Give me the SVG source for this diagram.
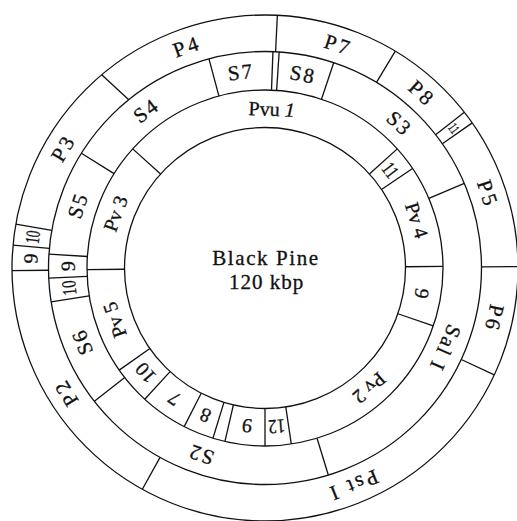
<svg xmlns="http://www.w3.org/2000/svg" width="517" height="521" viewBox="0 0 517 521">
<style>
.ring{fill:none;stroke:#111;stroke-width:1.3}
.div line{stroke:#111;stroke-width:1.3}
text{font-family:"Liberation Serif","DejaVu Serif",serif;fill:#111;stroke:#111;stroke-width:0.3;text-anchor:middle;dominant-baseline:central}
.lp{font-size:21px;letter-spacing:3px}
.ls{font-size:21px;letter-spacing:2px}
.lv{font-size:20px}
.n{font-size:20px}
.c{font-size:21px}
</style>
<rect width="517" height="521" fill="#fff"/>
<g id="rings">
<circle class="ring" cx="265" cy="268" r="253"/>
<circle class="ring" cx="265" cy="268" r="216.5"/>
<circle class="ring" cx="265" cy="268" r="178"/>
<circle class="ring" cx="265" cy="268" r="140.5"/>
</g>
<g id="connectors" class="div">
<line x1="275.58" y1="51.76" x2="277.36" y2="15.30"/>
<line x1="376.51" y1="82.42" x2="395.30" y2="51.14"/>
<line x1="435.60" y1="134.71" x2="464.37" y2="112.24"/>
<line x1="442.35" y1="143.82" x2="472.24" y2="122.89"/>
<line x1="481.5" y1="266.87" x2="518" y2="266.67"/>
<line x1="461.22" y1="359.50" x2="494.30" y2="374.92"/>
<line x1="160.04" y1="457.35" x2="142.34" y2="489.28"/>
<line x1="48.51" y1="270.27" x2="12.01" y2="270.65"/>
<line x1="49.39" y1="248.38" x2="13.04" y2="245.07"/>
<line x1="51.79" y1="230.40" x2="15.84" y2="224.07"/>
<line x1="128.75" y1="99.75" x2="101.70" y2="74.76"/>
<line x1="218.93" y1="96.06" x2="208.97" y2="58.88"/>
<line x1="271.52" y1="89.88" x2="272.93" y2="51.64"/>
<line x1="276.64" y1="90.38" x2="279.16" y2="51.96"/>
<line x1="321.48" y1="99.20" x2="333.70" y2="62.69"/>
<line x1="428.85" y1="198.45" x2="464.29" y2="183.41"/>
<line x1="317.04" y1="438.22" x2="328.30" y2="475.04"/>
<line x1="124.73" y1="377.59" x2="94.40" y2="401.29"/>
<line x1="89.19" y1="295.84" x2="51.17" y2="301.87"/>
<line x1="87.20" y1="276.39" x2="48.74" y2="278.20"/>
<line x1="87.37" y1="256.51" x2="48.95" y2="254.03"/>
<line x1="114.05" y1="173.67" x2="81.40" y2="153.27"/>
<line x1="160.59" y1="173.99" x2="132.72" y2="148.89"/>
<line x1="369.41" y1="173.99" x2="397.28" y2="148.89"/>
<line x1="381.48" y1="189.43" x2="412.57" y2="168.46"/>
<line x1="405.49" y1="266.77" x2="442.99" y2="266.45"/>
<line x1="397.85" y1="313.74" x2="433.30" y2="325.95"/>
<line x1="285.77" y1="406.96" x2="291.31" y2="444.05"/>
<line x1="265" y1="408.5" x2="265" y2="446"/>
<line x1="233.39" y1="404.90" x2="224.96" y2="441.44"/>
<line x1="223.92" y1="402.36" x2="212.96" y2="438.22"/>
<line x1="201.21" y1="393.19" x2="184.19" y2="426.60"/>
<line x1="170.08" y1="371.59" x2="144.74" y2="399.24"/>
<line x1="149.91" y1="348.59" x2="119.19" y2="370.10"/>
<line x1="124.51" y1="269.23" x2="87.01" y2="269.55"/>
</g>
<g id="center">
<text class="c" x="266" y="257.5" letter-spacing="1.6">Black Pine</text>
<text class="c" x="266.5" y="281.5" letter-spacing="1">120 kbp</text>
</g>
<g id="P4"><text class="lp" x="265" y="33.25" transform="rotate(340.6 265 268)">P4</text></g>
<g id="P7"><text class="lp" x="265" y="33.25" transform="rotate(18.2 265 268)">P7</text></g>
<g id="P8"><text class="lp" x="265" y="33.25" transform="rotate(42 265 268)">P8</text></g>
<g id="P11"><text font-size="14" x="265" y="33.25" textLength="9" lengthAdjust="spacingAndGlyphs" transform="rotate(53.5 265 268)">11</text></g>
<g id="P5"><text class="lp" x="265" y="33.25" transform="rotate(71.6 265 268)">P5</text></g>
<g id="P6"><text class="lp" x="265" y="33.25" transform="rotate(102.4 265 268)">P6</text></g>
<g id="PstI"><text class="lp" x="265" y="33.25" letter-spacing="1" transform="rotate(158 265 268)">Pst I</text></g>
<g id="P2"><text class="lp" x="265" y="33.25" transform="rotate(238 265 268)">P2</text></g>
<g id="P9"><text class="n" x="265" y="33.25" transform="rotate(272.3 265 268)">9</text></g>
<g id="P10"><text class="n" x="265" y="33.25" textLength="13" lengthAdjust="spacingAndGlyphs" transform="rotate(277.6 265 268)">10</text></g>
<g id="P3"><text class="lp" x="265" y="33.25" transform="rotate(300.8 265 268)">P3</text></g>
<g id="S7"><text class="ls" x="265" y="70.75" transform="rotate(353 265 268)">S7</text></g>
<g id="S8"><text class="ls" x="265" y="70.75" transform="rotate(11.1 265 268)">S8</text></g>
<g id="S3"><text class="ls" x="265" y="70.75" transform="rotate(42.9 265 268)">S3</text></g>
<g id="SalI"><text class="ls" x="265" y="70.75" letter-spacing="1" transform="rotate(114 265 268)">Sal I</text></g>
<g id="S2"><text class="ls" x="265" y="70.75" transform="rotate(199 265 268)">S2</text></g>
<g id="S6"><text class="ls" x="265" y="70.75" transform="rotate(248 265 268)">S6</text></g>
<g id="S10"><text class="n" x="265" y="70.75" textLength="15" lengthAdjust="spacingAndGlyphs" transform="rotate(264.2 265 268)">10</text></g>
<g id="S9"><text class="n" x="265" y="70.75" transform="rotate(270.5 265 268)">9</text></g>
<g id="S5"><text class="ls" x="265" y="70.75" transform="rotate(288.5 265 268)">S5</text></g>
<g id="S4"><text class="ls" x="265" y="70.75" transform="rotate(323 265 268)">S4</text></g>
<g id="PvuI"><text class="lv" x="265" y="108.75" transform="rotate(2.4 265 268)">Pvu <tspan font-style="italic">1</tspan></text></g>
<g id="Pv11"><text class="n" x="265" y="108.75" textLength="14" lengthAdjust="spacingAndGlyphs" transform="rotate(52 265 268)">11</text></g>
<g id="Pv4"><text class="lv" x="265" y="108.75" transform="rotate(72.5 265 268)">Pv 4</text></g>
<g id="Pv9a"><text class="n" x="265" y="108.75" transform="rotate(99.2 265 268)">9</text></g>
<g id="Pv2"><text class="lv" x="265" y="108.75" transform="rotate(139 265 268)">Pv 2</text></g>
<g id="Pv12"><text class="n" x="265" y="108.75" textLength="17" lengthAdjust="spacingAndGlyphs" transform="rotate(175.75 265 268)">12</text></g>
<g id="Pv9b"><text class="n" x="265" y="108.75" transform="rotate(186.5 265 268)">9</text></g>
<g id="Pv8"><text class="n" x="265" y="108.75" transform="rotate(202 265 268)">8</text></g>
<g id="Pv7"><text class="n" x="265" y="108.75" transform="rotate(214.75 265 268)">7</text></g>
<g id="Pv10"><text class="n" x="265" y="108.75" transform="rotate(228.75 265 268)">10</text></g>
<g id="Pv5"><text class="lv" x="265" y="108.75" transform="rotate(251 265 268)">Pv 5</text></g>
<g id="Pv3"><text class="lv" x="265" y="108.75" transform="rotate(290 265 268)">Pv 3</text></g>
</svg>
